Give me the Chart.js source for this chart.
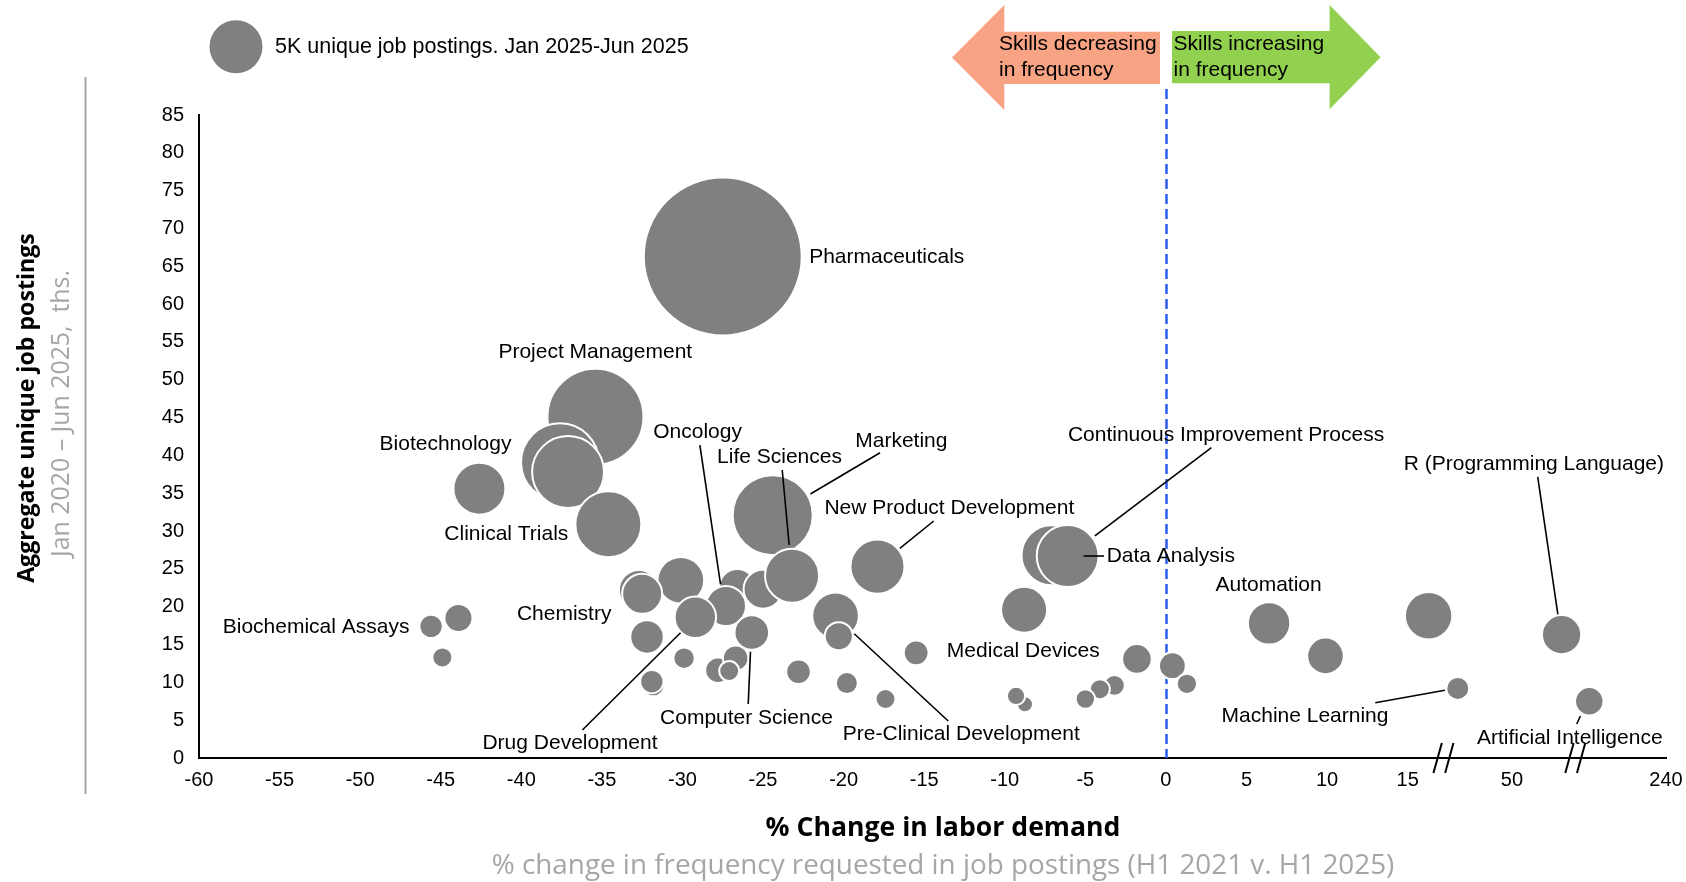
<!DOCTYPE html>
<html>
<head>
<meta charset="utf-8">
<script src="https://cdn.jsdelivr.net/npm/chart.js@4.4.1/dist/chart.umd.min.js"></script>
<style>
  html, body { margin: 0; padding: 0; background: #ffffff; }
  #wrap { width: 1686px; height: 882px; position: relative; }
</style>
</head>
<body>
<div id="wrap"><canvas id="chart" width="1686" height="882"></canvas></div>
<script>
// ---------------- DATA ----------------
// % change in labor demand (H1 2021 v. H1 2025)
const changePct = [
  -43.9, -45.6, -44.9, -42.6, -35.4, -37.6, -37.1, -34.6, -27.5, -24.4,
  -30.1, -26.6, -25.0, -23.2, -27.3, -29.2, -32.7, -32.5, -32.2, -25.7,
  -29.9, -31.8, -31.9, -27.8, -26.7, -27.1, -22.8, -20.5, -20.3, -19.8,
  -17.4, -17.9, -15.5, -8.8, -7.1, -6.1, -8.75, -9.3, -3.2, -4.1,
  -5.0, -1.8, 0.4, 1.3, 6.4, 9.9, 16.3, 26, 72, 103
];
// Aggregate unique job postings, Jan 2020 - Jun 2025, ths.
const aggregatePostings = [
  18.5, 17.4, 13.3, 35.6, 45.1, 39.1, 37.8, 30.9, 66.3, 32.1,
  23.5, 22.6, 22.3, 24.1, 20.1, 18.6, 22.2, 21.7, 16.0, 16.6,
  13.2, 9.6, 10.1, 11.6, 13.2, 11.5, 11.4, 18.8, 16.1, 9.9,
  7.8, 25.3, 13.9, 19.6, 26.8, 26.7, 7.1, 8.2, 9.6, 9.1,
  7.8, 13.1, 12.2, 9.8, 17.8, 13.5, 18.8, 9.2, 16.3, 7.5
];
// Unique job postings Jan 2025 - Jun 2025, ths. (bubble size)
const recentPostings = [
  1.4, 0.97, 0.71, 4.8, 16.4, 10.8, 9.2, 7.75, 44.4, 11.4,
  3.87, 2.3, 2.7, 5.2, 2.85, 3.05, 2.85, 2.85, 1.99, 2.13,
  0.82, 0.86, 0.97, 1.15, 1.15, 0.71, 1.08, 3.87, 1.4, 0.86,
  0.71, 5.2, 1.09, 3.77, 6.4, 6.8, 0.46, 0.59, 0.78, 0.71,
  0.67, 1.56, 1.28, 0.74, 3.2, 2.38, 4.0, 0.94, 2.74, 1.44
];
const xTickValues = [-60, -55, -50, -45, -40, -35, -30, -25, -20, -15, -10, -5, 0, 5, 10, 15, 50, 240];
const yTickValues = [0, 5, 10, 15, 20, 25, 30, 35, 40, 45, 50, 55, 60, 65, 70, 75, 80, 85];
const legendSizeK = 5;

// --------------- BROKEN X AXIS ---------------
const X_MIN = -60, X_MAX = 31.03;
const BREAKS = [17.22, 25.4];          // axis units where the axis is broken
function toAxis(v) {
  if (v <= 17) return v;                                   // linear part
  if (v <= 78) return 21.47 + (v - 50) * 0.14;             // compressed 17..78
  return 25.4 + (v - 78) * (X_MAX - 25.4) / (240 - 78);    // compressed 78..240
}
function radiusFor(k) { return 26.5 * Math.sqrt(k / legendSizeK); }

// --------------- ANNOTATIONS (axis units) ---------------
const labels = [
  { t: 'Pharmaceuticals', u: -22.14, v: 66.22, a: 'left' },
  { t: 'Project Management', u: -35.41, v: 53.58, a: 'center' },
  { t: 'Biotechnology', u: -40.61, v: 41.51, a: 'right' },
  { t: 'Clinical Trials', u: -37.08, v: 29.56, a: 'right' },
  { t: 'Oncology', u: -29.06, v: 43.09, a: 'center' },
  { t: 'Life Sciences', u: -23.98, v: 39.79, a: 'center' },
  { t: 'Marketing', u: -16.42, v: 41.9, a: 'center' },
  { t: 'New Product Development', u: -13.44, v: 32.97, a: 'center' },
  { t: 'Continuous Improvement Process', u: 3.73, v: 42.63, a: 'center' },
  { t: 'Data Analysis', u: -3.68, v: 26.7, a: 'left' },
  { t: 'Automation', u: 6.37, v: 22.87, a: 'center' },
  { t: 'R (Programming Language)', u: 22.83, v: 38.8, a: 'center' },
  { t: 'Biochemical Assays', u: -46.94, v: 17.32, a: 'right' },
  { t: 'Chemistry', u: -34.41, v: 19.04, a: 'right' },
  { t: 'Medical Devices', u: -8.85, v: 14.06, a: 'center' },
  { t: 'Machine Learning', u: 8.63, v: 5.55, a: 'center' },
  { t: 'Artificial Intelligence', u: 25.06, v: 2.68, a: 'center' },
  { t: 'Computer Science', u: -26.03, v: 5.25, a: 'center' },
  { t: 'Pre-Clinical Development', u: -12.7, v: 3.12, a: 'center' },
  { t: 'Drug Development', u: -36.98, v: 1.98, a: 'center' }
];
const leaders = [
  [-28.92, 41.37, -27.64, 23.0],
  [-23.81, 38.07, -23.38, 28.16],
  [-17.74, 40.36, -22.06, 34.9],
  [-14.41, 31.33, -16.51, 27.72],
  [2.82, 41.02, -4.41, 29.35],
  [-5.11, 26.7, -3.84, 26.7],
  [23.07, 37.15, 24.32, 19.0],
  [12.99, 7.31, 17.31, 8.95],
  [25.49, 4.49, 25.72, 5.55],
  [-25.92, 7.14, -25.78, 14.05],
  [-13.51, 4.89, -19.34, 16.43],
  [-36.21, 3.7, -30.12, 16.56]
];

function fitFont(ctx, text, weight, family, width) {
  ctx.font = weight + ' 100px ' + family;
  const w = ctx.measureText(text).width;
  return weight + ' ' + (100 * width / w).toFixed(2) + 'px ' + family;
}

const overlay = {
  id: 'overlay',
  beforeDatasetsDraw(chart) {
    const ctx = chart.ctx, xs = chart.scales.x;
    const x0 = Math.round(xs.getPixelForValue(toAxis(0))) + 0.5;
    ctx.save();
    ctx.strokeStyle = '#2b5cf0';
    ctx.lineWidth = 2.5;
    ctx.setLineDash([10, 5]);
    ctx.beginPath();
    ctx.moveTo(x0, 89);
    ctx.lineTo(x0, chart.chartArea.bottom);
    ctx.stroke();
    ctx.restore();
  },
  afterDatasetsDraw(chart) {
    const ctx = chart.ctx, xs = chart.scales.x, ys = chart.scales.y;
    const px = u => xs.getPixelForValue(u), py = v => ys.getPixelForValue(v);
    ctx.save();
    // leader lines
    ctx.strokeStyle = '#000';
    ctx.lineWidth = 1.6;
    leaders.forEach(l => {
      ctx.beginPath();
      ctx.moveTo(px(l[0]), py(l[1]));
      ctx.lineTo(px(l[2]), py(l[3]));
      ctx.stroke();
    });
    // labels
    ctx.fillStyle = '#000';
    ctx.font = '21px "Liberation Sans", Arial, sans-serif';
    ctx.textBaseline = 'middle';
    labels.forEach(l => {
      ctx.textAlign = l.a;
      ctx.fillText(l.t, px(l.u), py(l.v));
    });
    // axis break marks
    const bottom = chart.chartArea.bottom;
    ctx.lineWidth = 2;
    BREAKS.forEach(b => {
      const c = px(b);
      [[-10, -1.6], [1.7, 10]].forEach(([a1, a2]) => {
        ctx.beginPath();
        ctx.moveTo(c + a1, bottom + 15);
        ctx.lineTo(c + a2, bottom - 15);
        ctx.stroke();
      });
    });
    // arrows
    ctx.fillStyle = '#f8a384';
    ctx.beginPath();
    ctx.moveTo(952, 57.5); ctx.lineTo(1004.3, 5); ctx.lineTo(1004.3, 31.7);
    ctx.lineTo(1160, 31.7); ctx.lineTo(1160, 84); ctx.lineTo(1004.3, 84);
    ctx.lineTo(1004.3, 110); ctx.closePath(); ctx.fill();
    ctx.fillStyle = '#92d050';
    ctx.beginPath();
    ctx.moveTo(1172, 31); ctx.lineTo(1329.6, 31); ctx.lineTo(1329.6, 5);
    ctx.lineTo(1380.6, 57.3); ctx.lineTo(1329.6, 109.3); ctx.lineTo(1329.6, 83.3);
    ctx.lineTo(1172, 83.3); ctx.closePath(); ctx.fill();
    ctx.fillStyle = '#000';
    ctx.textAlign = 'left';
    ctx.font = '21px "Liberation Sans", Arial, sans-serif';
    ctx.fillText('Skills decreasing', 999, 44.5);
    ctx.fillText('in frequency', 999, 70.5);
    ctx.fillText('Skills increasing', 1173.5, 44.5);
    ctx.fillText('in frequency', 1173.5, 70.5);
    // legend
    ctx.fillStyle = '#808080';
    ctx.beginPath();
    ctx.arc(236, 46.7, radiusFor(legendSizeK), 0, Math.PI * 2);
    ctx.fill();
    ctx.fillStyle = '#000';
    ctx.font = '21.5px "Liberation Sans", Arial, sans-serif';
    ctx.fillText('5K unique job postings. Jan 2025-Jun 2025', 275, 47);
    // left grey rule
    ctx.strokeStyle = '#a6a6a6';
    ctx.lineWidth = 2;
    ctx.beginPath();
    ctx.moveTo(85.5, 77); ctx.lineTo(85.5, 794); ctx.stroke();
    // y titles
    ctx.textAlign = 'center';
    ctx.save();
    ctx.translate(27, 408);
    ctx.rotate(-Math.PI / 2);
    ctx.fillStyle = '#000';
    ctx.font = fitFont(ctx, 'Aggregate unique job postings', 'bold', '"Open Sans", sans-serif', 350);
    ctx.fillText('Aggregate unique job postings', 0, 0);
    ctx.restore();
    ctx.save();
    ctx.translate(62, 413.5);
    ctx.rotate(-Math.PI / 2);
    ctx.fillStyle = '#a6a6a6';
    ctx.font = fitFont(ctx, 'Jan 2020 \u2013 Jun 2025,  ths.', 'normal', '"Open Sans", sans-serif', 287);
    ctx.fillText('Jan 2020 \u2013 Jun 2025,  ths.', 0, 0);
    ctx.restore();
    // x titles
    ctx.fillStyle = '#000';
    ctx.font = fitFont(ctx, '% Change in labor demand', 'bold', '"Open Sans", sans-serif', 355);
    ctx.fillText('% Change in labor demand', 943, 828);
    ctx.fillStyle = '#a6a6a6';
    ctx.font = fitFont(ctx, '% change in frequency requested in job postings (H1 2021 v. H1 2025)', 'normal', '"Open Sans", sans-serif', 903);
    ctx.fillText('% change in frequency requested in job postings (H1 2021 v. H1 2025)', 943, 866.5);
    ctx.restore();
  }
};

Chart.defaults.font.family = '"Liberation Sans", Arial, sans-serif';
Chart.defaults.color = '#000';

const points = changePct.map((x, i) => ({
  x: toAxis(x),
  y: aggregatePostings[i],
  r: radiusFor(recentPostings[i])
}));

new Chart(document.getElementById('chart'), {
  type: 'bubble',
  data: {
    datasets: [{
      data: points,
      backgroundColor: '#808080',
      borderColor: '#ffffff',
      borderWidth: 2,
      clip: false
    }]
  },
  options: {
    responsive: false,
    animation: false,
    devicePixelRatio: 1,
    events: [],
    layout: { autoPadding: false, padding: { top: 115, right: 20, left: 0, bottom: 0 } },
    plugins: { legend: { display: false }, tooltip: { enabled: false } },
    scales: {
      x: {
        type: 'linear',
        min: X_MIN,
        max: X_MAX,
        grid: { display: false, drawTicks: false },
        border: { display: true, color: '#000', width: 2 },
        afterBuildTicks: s => { s.ticks = xTickValues.map(v => ({ value: toAxis(v) })); },
        afterFit: s => { s.height = 124; s.paddingLeft = 0; s.paddingRight = 0; },
        ticks: {
          autoSkip: false,
          maxRotation: 0,
          padding: 10,
          font: { size: 20 },
          color: '#000',
          callback: (val, idx) => String(xTickValues[idx])
        }
      },
      y: {
        type: 'linear',
        min: 0,
        max: 85,
        grid: { display: false, drawTicks: false },
        border: { display: true, color: '#000', width: 2 },
        afterBuildTicks: s => { s.ticks = yTickValues.map(v => ({ value: v })); },
        afterFit: s => { s.width = 199; s.paddingTop = 0; s.paddingBottom = 0; },
        ticks: { padding: 15, font: { size: 20 }, color: '#000' }
      }
    }
  },
  plugins: [overlay]
});
</script>
</body>
</html>
